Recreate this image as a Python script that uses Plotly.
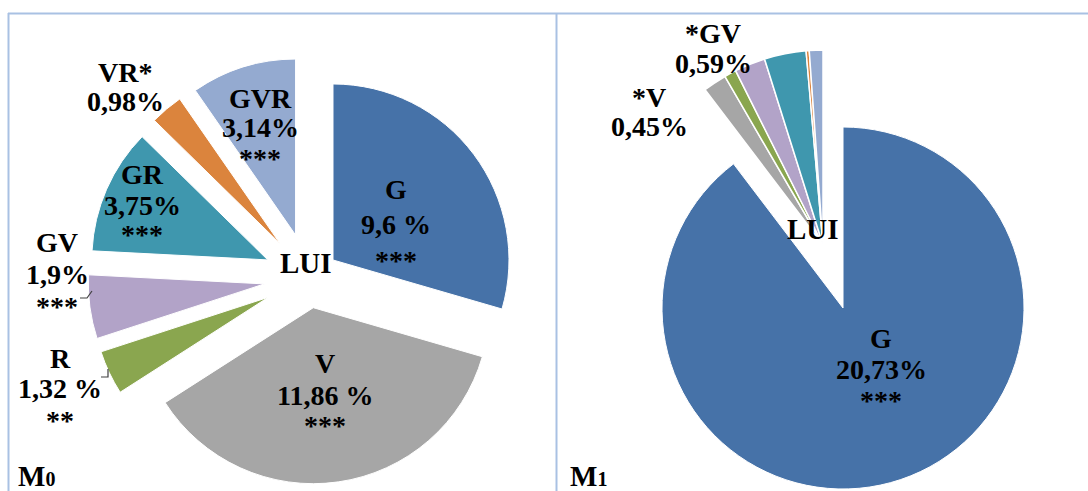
import math
import plotly.graph_objects as go

W, H = 1088, 491

# Land-use-intensity components and their shares (%)
categories = ["G", "V", "R", "GV", "GR", "VR", "GVR"]
m0_values = [9.6, 11.86, 1.32, 1.9, 3.75, 0.98, 3.14]
m0_signif = ["***", "***", "**", "***", "***", "*", "***"]
m0_pct_gap = [" ", " ", " ", "", "", "", ""]
m1_values = [20.73, 0.45, 0.23, 0.59, 0.80, 0.06, 0.26]
m1_signif = ["***", "*", "", "*", "", "", ""]
slice_colors = ["#4672A8", "#A6A6A6", "#8AA64F", "#B2A3C8", "#3F97AE", "#DB843D", "#94AAD0"]

CLEAR = "rgba(0,0,0,0)"
FONT = "Liberation Serif, Times New Roman, serif"
BORDER = "#A9C1E3"
LABEL_SIZE = 28


def px_x(x):
    return x / W


def px_y(y):
    return 1 - y / H


def px_domain(cx, cy, r):
    return dict(x=[max(0, px_x(cx - r)), min(1, px_x(cx + r))],
                y=[max(0, px_y(cy + r)), min(1, px_y(cy - r))])


def mid_direction(values, i):
    total = sum(values)
    theta = (sum(values[:i]) + values[i] / 2) / total * 2 * math.pi
    return math.sin(theta), -math.cos(theta)


def pie(values, shown, domain, line_w, name):
    n = len(values)
    return go.Pie(
        labels=categories, values=values, sort=False,
        direction="clockwise", rotation=0,
        marker=dict(
            colors=[c if k in shown else CLEAR for k, c in enumerate(slice_colors)],
            line=dict(color="white", width=[line_w if k in shown else 0 for k in range(n)]),
        ),
        textinfo="none", domain=domain, showlegend=False, name=name,
        hovertemplate="%{label}: %{value}%<extra>" + name + "</extra>",
    )


def pct(v, gap=""):
    return f"{v:g}".replace(".", ",") + gap + "%"


fig = go.Figure()

# M0: every slice exploded from the common centre along its own bisector
m0_center, m0_r = (309, 278), 176
m0_pull_px = [30, 30, 45, 45, 45, 45, 45]
for i in range(len(m0_values)):
    dx, dy = mid_direction(m0_values, i)
    cx = m0_center[0] + m0_pull_px[i] * dx
    cy = m0_center[1] + m0_pull_px[i] * dy
    fig.add_trace(pie(m0_values, {i}, px_domain(cx, cy, m0_r), 1, "M0"))

# M1: G stays in place, the small components are pulled out together
m1_center, m1_r = (843, 308), 181
fig.add_trace(pie(m1_values, {0}, px_domain(*m1_center, m1_r), 1, "M1"))
m1_small_center, m1_small_r = (823, 245), 195
fig.add_trace(pie(m1_values, set(range(1, len(m1_values))),
                  px_domain(*m1_small_center, m1_small_r), 1.5, "M1"))

annotations = []


def note(x, y, text, size=LABEL_SIZE, **kw):
    annotations.append(dict(
        x=px_x(x), y=px_y(y), xref="paper", yref="paper", text=text, showarrow=False,
        xanchor="center", yanchor="middle", borderpad=0,
        font=dict(family=FONT, size=size, color="black", weight="bold"), **kw))


def label_block(x, ys, lines):
    """One annotation per text line; asterisk rows sit high in their glyph box."""
    for y, line in zip(ys, lines):
        if line:
            shift = 4 if set(line) == {"*"} else 0
            note(x, y + shift, line)


# M0 slice labels
m0_label_pos = {0: (396, (189, 224, 256)), 1: (325, (363, 395, 421)),
                2: (60, (358, 388, 416)), 3: (57, (242, 274, 302)),
                4: (142, (174, 205, 231)), 6: (260, (98, 128, 154))}
for i, (x, ys) in m0_label_pos.items():
    label_block(x, ys, [categories[i], pct(m0_values[i], m0_pct_gap[i]), m0_signif[i]])
label_block(125, (72, 102), [categories[5] + m0_signif[5], pct(m0_values[5], m0_pct_gap[5])])

# M1 slice labels
label_block(881, (338, 369, 396), [categories[0], pct(m1_values[0]), m1_signif[0]])
label_block(649, (97, 126), [m1_signif[1] + categories[1], pct(m1_values[1])])
label_block(713, (34, 63), [m1_signif[3] + categories[3], pct(m1_values[3])])

# centre captions
note(306, 263, "LUI", size=29)
note(813, 229, "LUI", size=29)

# panel names
for x, main, sub in [(16, "M", "0"), (568, "M", "1")]:
    annotations.append(dict(
        x=px_x(x), y=0, xref="paper", yref="paper", xanchor="left", yanchor="bottom", yshift=-3,
        text=f"{main}<span style='font-size:20px'>{sub}</span>", showarrow=False,
        font=dict(family=FONT, size=29, color="black", weight="bold")))

shapes = [
    # panel frames
    dict(type="line", xref="paper", yref="paper", x0=px_x(8), x1=1, y0=px_y(13.5), y1=px_y(13.5),
         line=dict(color=BORDER, width=2)),
    dict(type="line", xref="paper", yref="paper", x0=px_x(8.5), x1=px_x(8.5), y0=px_y(13), y1=0,
         line=dict(color=BORDER, width=2)),
    dict(type="line", xref="paper", yref="paper", x0=px_x(556.5), x1=px_x(556.5), y0=px_y(13), y1=0,
         line=dict(color=BORDER, width=2)),
    # leader lines for the GV and R labels
    dict(type="path", xref="paper", yref="paper",
         path=f"M {px_x(80)},{px_y(298)} L {px_x(87)},{px_y(298)} L {px_x(92)},{px_y(291)}",
         line=dict(color="#404040", width=1.2)),
    dict(type="path", xref="paper", yref="paper",
         path=f"M {px_x(101)},{px_y(377)} L {px_x(108)},{px_y(377)} L {px_x(108)},{px_y(369)}",
         line=dict(color="#404040", width=1.2)),
]

fig.update_layout(
    width=W, height=H, margin=dict(l=0, r=0, t=0, b=0),
    paper_bgcolor="white", plot_bgcolor="white",
    annotations=annotations, shapes=shapes,
)

fig.write_html("out.html")
